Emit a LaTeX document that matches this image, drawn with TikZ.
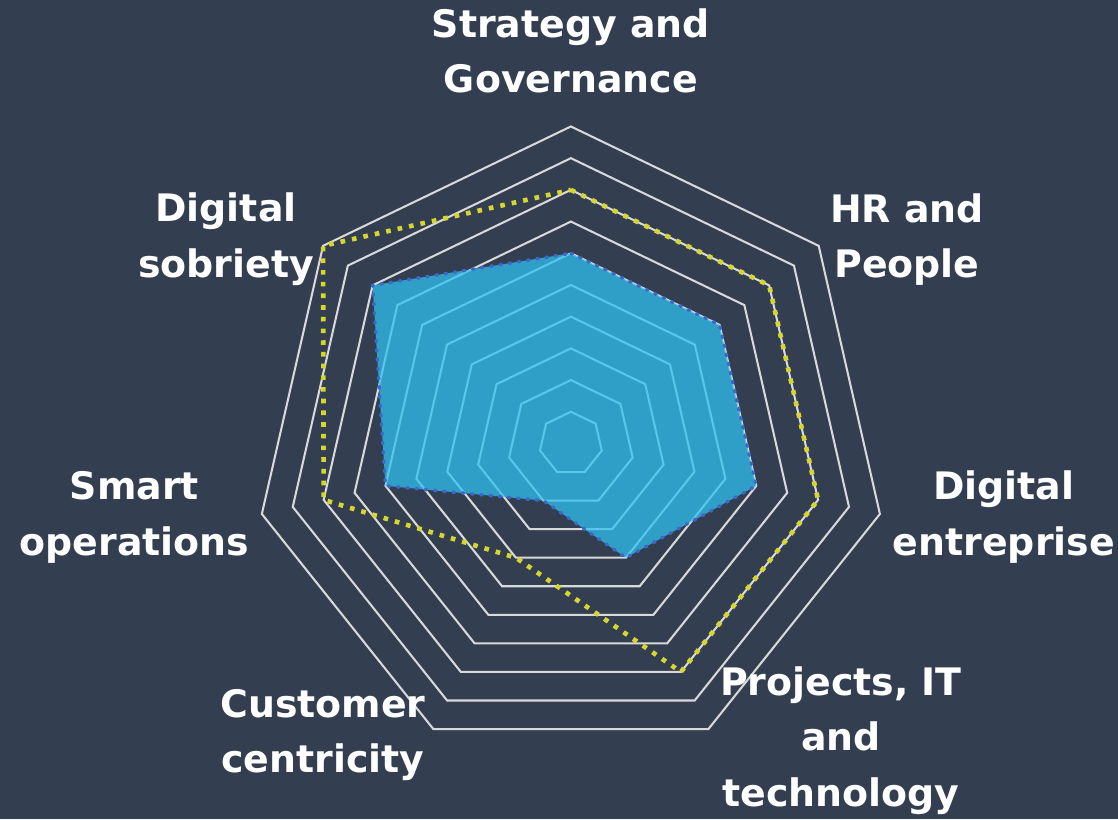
\documentclass[tikz,border=0pt]{standalone}
\usepackage{fontspec}
\setmainfont{DejaVu Sans}
\usetikzlibrary{positioning,backgrounds,calc}
\definecolor{bgslate}{RGB}{51,63,80}
\definecolor{gridgray}{RGB}{217,217,217}
\definecolor{fillblue}{RGB}{47,192,240}
\definecolor{lineblue}{RGB}{62,104,200}
\definecolor{dotyellow}{RGB}{214,214,46}
\newcommand{\nax}{7}
\newcommand{\axang}[1]{90-360/\nax*#1}
\newcommand{\mlabel}[3]{
  \node[lbl] (#3) at #1 {#2};
}

\begin{document}
\begin{tikzpicture}[x=0.6cm,y=0.6cm,
    gridline/.style={draw=gridgray,line width=1.1pt,line join=miter},
    curarea/.style={fill=fillblue,fill opacity=0.75},
    curline/.style={draw=lineblue,line width=1.8pt,line cap=round,dash pattern=on 1pt off 4pt},
    tgtline/.style={draw=dotyellow,line width=2.5pt,dash pattern=on 2.5pt off 3.8pt},
    lbl/.style={text=white,align=center,anchor=base,inner sep=0pt,
      font={\fontsize{20.4pt}{29.9pt}\selectfont\bfseries}}]
  \fill[bgslate] (-18.01,-11.85) rectangle (17.26,13.99);
  \useasboundingbox (-18.01,-11.85) rectangle (17.26,13.99);

  \foreach \r in {1,...,10}
    \draw[gridline] (90:\r) \foreach \i in {1,...,6} { -- ({\axang{\i}}:\r) } -- cycle;

  \foreach \v [count=\i from 0] in {6,6,6,4,2,6,8}
    \coordinate (c\i) at ({\axang{\i}}:\v);
  \foreach \v [count=\i from 0] in {8,8,8,8,4,8,10}
    \coordinate (t\i) at ({\axang{\i}}:\v);

  \path[curarea] (c0) -- (c1) -- (c2) -- (c3) -- (c4) -- (c5) -- (c6) -- cycle;
  \path[curline] (c0) -- (c1) -- (c2) -- (c3) -- (c4) -- (c5) -- (c6) -- cycle;
  \path[tgtline] (t0) -- (t1) -- (t2) -- (t3) -- (t4) -- (t5) -- (t6) -- cycle;

  \mlabel{(0,11.06)}{Strategy and\\Governance}{strat}
  \mlabel{(10.60,5.22)}{HR and\\People}{hr}
  \mlabel{(13.66,-3.52)}{Digital\\entreprise}{dent}
  \mlabel{(8.52,-11.44)}{Projects, IT\\and\\technology}{proj}
  \mlabel{(-7.82,-10.39)}{Customer\\centricity}{cust}
  \mlabel{(-13.77,-3.52)}{Smart\\operations}{smart}
  \mlabel{(-10.88,5.25)}{Digital\\sobriety}{sobr}
\end{tikzpicture}
\end{document}
